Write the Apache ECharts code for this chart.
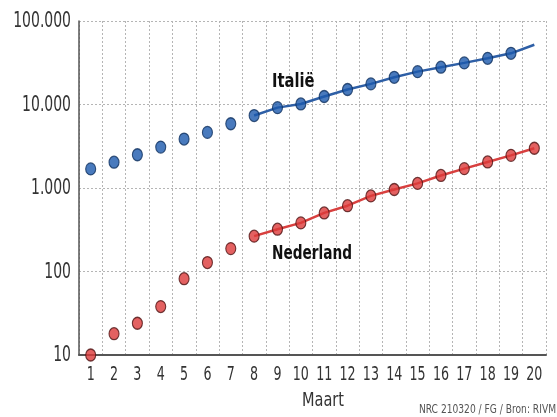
<!DOCTYPE html>
<html>
<head>
<meta charset="utf-8">
<script src="https://cdn.jsdelivr.net/npm/echarts@6/dist/echarts.min.js"></script>
<style>
  html, body { margin: 0; padding: 0; background: #fff; }
  #chart { width: 557px; height: 417px; }
</style>
</head>
<body>
<div id="chart"></div>
<script>
// Dagen in maart
const days = ['1','2','3','4','5','6','7','8','9','10','11','12','13','14','15','16','17','18','19','20'];

// Bevestigde besmettingen Italië (1 t/m 19 maart)
const italyCases = [1694, 2036, 2502, 3089, 3858, 4636, 5883, 7375, 9172, 10149, 12462, 15113, 17660, 21157, 24747, 27980, 31506, 35713, 41035];
// Trendlijn Italië vanaf 8 maart
const italyTrend = [null, null, null, null, null, null, null, 7375, 9172, 10149, 12462, 15113, 17660, 21157, 24747, 27980, 31506, 35713, 41035, 52000];

// Bevestigde besmettingen Nederland (1 t/m 20 maart)
const nlCases = [10, 18, 24, 38, 82, 128, 188, 265, 321, 382, 503, 614, 804, 959, 1135, 1413, 1705, 2051, 2460, 2994];
// Lijn Nederland vanaf 8 maart
const nlTrend = [null, null, null, null, null, null, null, 265, 321, 382, 503, 614, 804, 959, 1135, 1413, 1705, 2051, 2460, 2994];

const yTicks = [10, 100, 1000, 10000, 100000];

const FONT = '"DejaVu Sans Condensed", "DejaVu Sans", sans-serif';
const NARROW = 0.74;   // horizontale compressie van de smalle letter

function fmt(v) {
  return String(Math.round(v)).replace(/\B(?=(\d{3})+(?!\d))/g, '.');
}

const chart = echarts.init(document.getElementById('chart'), null, { renderer: 'canvas' });

chart.setOption({
  animation: false,
  backgroundColor: '#ffffff',
  grid: { left: 79, right: 11, top: 21, bottom: 62, containLabel: false, outerBoundsMode: 'none' },
  xAxis: {
    type: 'category',
    data: days,
    boundaryGap: true,
    axisLine: { lineStyle: { color: '#555', width: 2 } },
    axisTick: { show: false },
    axisLabel: { show: false },
    splitLine: { show: true, interval: 0, lineStyle: { color: '#b5b5b5', type: [2, 2], width: 1 } }
  },
  yAxis: {
    type: 'log',
    logBase: 10,
    min: yTicks[0],
    max: yTicks[yTicks.length - 1],
    axisLine: { show: true, lineStyle: { color: '#555', width: 1.5 } },
    axisTick: { show: false },
    axisLabel: { show: false },
    splitLine: { show: true, lineStyle: { color: '#b5b5b5', type: [2, 2], width: 1 } }
  },
  series: [
    {
      name: 'Italië lijn',
      type: 'line',
      data: italyTrend,
      showSymbol: false,
      symbol: 'none',
      lineStyle: { color: '#2e5fa6', width: 2.5 },
      z: 2
    },
    {
      name: 'Nederland lijn',
      type: 'line',
      data: nlTrend,
      showSymbol: false,
      symbol: 'none',
      lineStyle: { color: '#d8403f', width: 2.5 },
      z: 2
    },
    {
      name: 'Italië',
      type: 'scatter',
      data: italyCases,
      symbolSize: [10, 12],
      clip: false,
      itemStyle: { color: '#1c59ad', borderColor: '#0e2f5e', borderWidth: 1.2 },
      z: 3
    },
    {
      name: 'Nederland',
      type: 'scatter',
      data: nlCases,
      symbolSize: [10, 12],
      clip: false,
      itemStyle: { color: '#dc3a3a', borderColor: '#4e1212', borderWidth: 1.2 },
      z: 3
    }
  ]
});

// Aslabels en teksten in smalle letter (horizontaal geschaald)
function narrowText(x, y, text, font, fill, align, scale) {
  return {
    type: 'text', x: x, y: y, scaleX: scale || NARROW, z: 10,
    style: { text: text, font: font, fill: fill, align: align || 'center', verticalAlign: 'middle' }
  };
}

const gfx = [];
yTicks.forEach(function (v) {
  const py = chart.convertToPixel({ yAxisIndex: 0 }, v);
  gfx.push(narrowText(71, py + 1, fmt(v), '21px ' + FONT, '#333', 'right'));
});
days.forEach(function (d) {
  const px = chart.convertToPixel({ xAxisIndex: 0 }, d);
  gfx.push(narrowText(px, 375.5, d, '19px ' + FONT, '#333', 'center'));
});
gfx.push(narrowText(323, 401, 'Maart', '19px ' + FONT, '#333', 'center', 0.85));
gfx.push(narrowText(556, 410, 'NRC 210320 / FG / Bron: RIVM', '13px ' + FONT, '#555', 'right', 0.78));
gfx.push(narrowText(272, 82.5, 'Italië', 'bold 19px ' + FONT, '#111', 'left', 0.86));
gfx.push(narrowText(272, 254.5, 'Nederland', 'bold 19px ' + FONT, '#111', 'left', 0.8));

chart.setOption({ graphic: gfx });
</script>
</body>
</html>
